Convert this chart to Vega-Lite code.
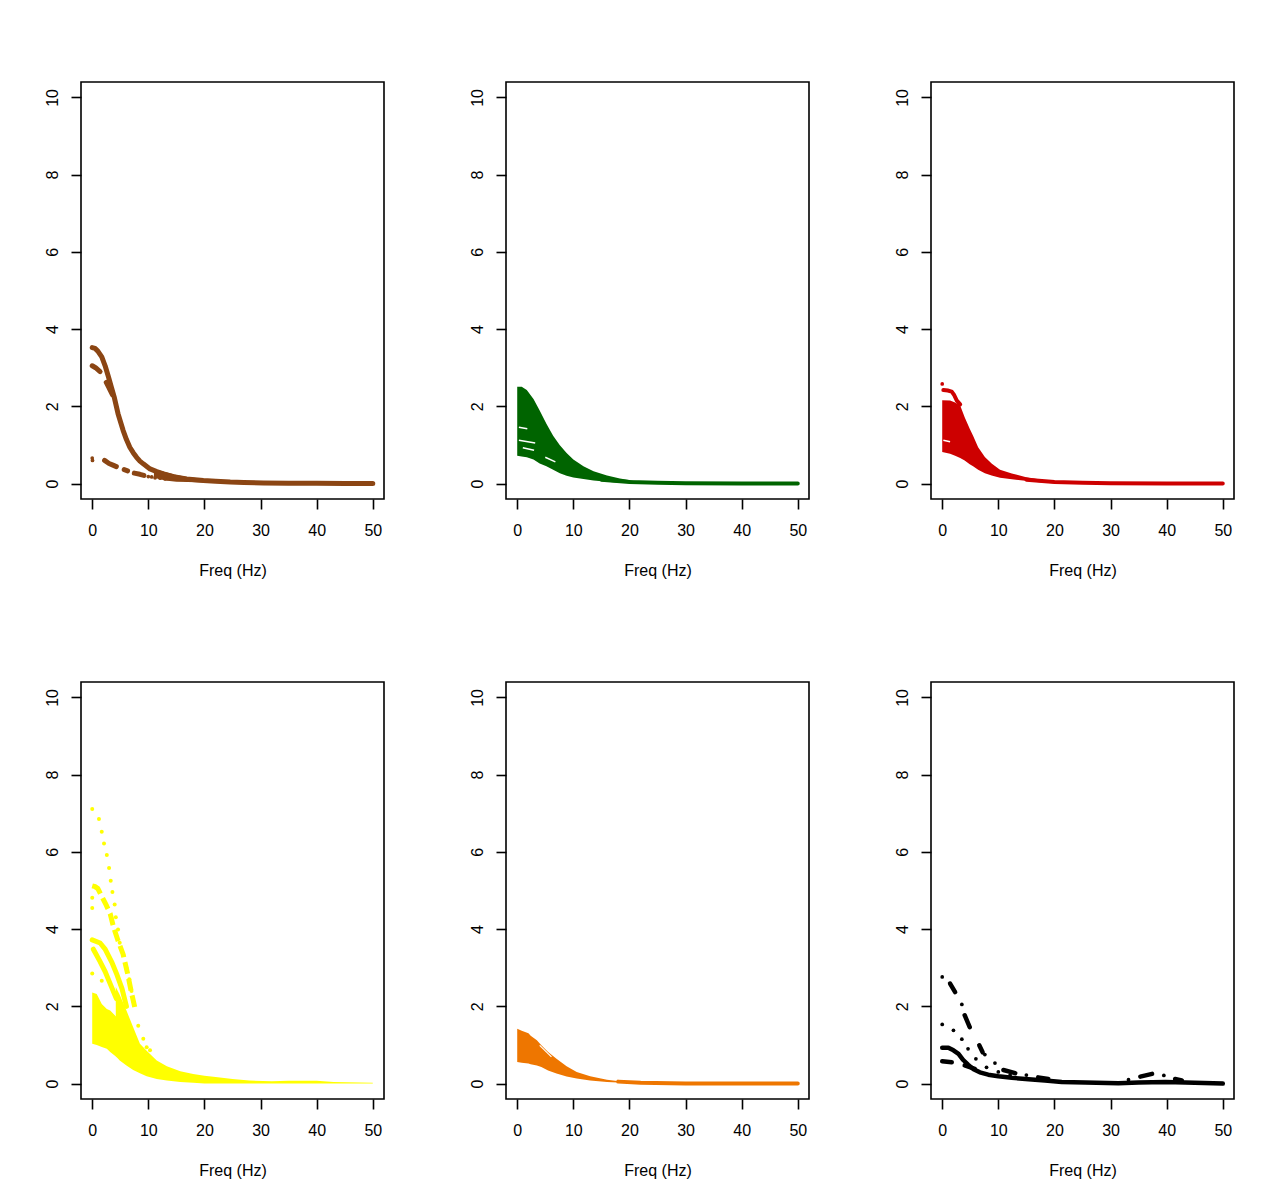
{
  "$schema": "https://vega.github.io/schema/vega-lite/v6.json",
  "padding": {"top": 81, "left": 43, "right": 0, "bottom": 0},
  "background": "white",
  "config": {
    "view": {"stroke": "black", "strokeWidth": 1.6},
    "axis": {
      "domain": false, "grid": false,
      "tickColor": "black", "tickWidth": 1.6, "tickSize": 10,
      "labelFont": "Liberation Sans", "labelFontSize": 16, "labelColor": "black", "labelPadding": 13,
      "titleFont": "Liberation Sans", "titleFontSize": 16, "titleFontWeight": "normal", "titleColor": "black", "titlePadding": 24
    },
    "axisY": {"labelAngle": 270, "labelAlign": "center", "labelBaseline": "alphabetic", "labelPadding": 14}
  },
  "datasets": {
    "l1": [
      {"seg": "a", "x": 0, "y": 3.52}, {"seg": "a", "x": 0.5, "y": 3.5}, {"seg": "a", "x": 1, "y": 3.43}, {"seg": "a", "x": 1.7, "y": 3.28},
      {"seg": "a", "x": 2.3, "y": 3.05}, {"seg": "a", "x": 2.9, "y": 2.76}, {"seg": "a", "x": 3.4, "y": 2.5}, {"seg": "a", "x": 3.9, "y": 2.25},
      {"seg": "a", "x": 4.6, "y": 1.81}, {"seg": "a", "x": 5.5, "y": 1.38}, {"seg": "a", "x": 6.1, "y": 1.14}, {"seg": "a", "x": 6.7, "y": 0.94},
      {"seg": "a", "x": 7.3, "y": 0.8}, {"seg": "a", "x": 7.9, "y": 0.68}, {"seg": "a", "x": 8.5, "y": 0.58}, {"seg": "a", "x": 9.1, "y": 0.51},
      {"seg": "a", "x": 10.3, "y": 0.38}, {"seg": "a", "x": 11.5, "y": 0.31}, {"seg": "a", "x": 12.7, "y": 0.25}, {"seg": "a", "x": 14.5, "y": 0.18},
      {"seg": "a", "x": 16.8, "y": 0.12}, {"seg": "a", "x": 19.8, "y": 0.08}, {"seg": "a", "x": 22, "y": 0.06}, {"seg": "a", "x": 24.6, "y": 0.04},
      {"seg": "a", "x": 27, "y": 0.03}, {"seg": "a", "x": 30.5, "y": 0.015}, {"seg": "a", "x": 35, "y": 0.01}, {"seg": "a", "x": 40, "y": 0.01},
      {"seg": "a", "x": 45, "y": 0}, {"seg": "a", "x": 50, "y": 0},
      {"seg": "b", "x": 0, "y": 3.05}, {"seg": "b", "x": 0.6, "y": 3.0}, {"seg": "b", "x": 1.4, "y": 2.9},
      {"seg": "c", "x": 2.5, "y": 2.62}, {"seg": "c", "x": 3.0, "y": 2.48}, {"seg": "c", "x": 3.6, "y": 2.3},
      {"seg": "d", "x": 2.2, "y": 0.6}, {"seg": "d", "x": 3.0, "y": 0.52}, {"seg": "d", "x": 3.8, "y": 0.47}, {"seg": "d", "x": 4.3, "y": 0.44},
      {"seg": "e", "x": 5.7, "y": 0.36}, {"seg": "e", "x": 6.3, "y": 0.33},
      {"seg": "f", "x": 7.5, "y": 0.27}, {"seg": "f", "x": 8.5, "y": 0.24}, {"seg": "f", "x": 9.2, "y": 0.21}
    ],
    "b1": [
      {"x": 11, "y": 0.38, "lo": 0.15}, {"x": 13, "y": 0.3, "lo": 0.08}, {"x": 15, "y": 0.22, "lo": 0.05},
      {"x": 17, "y": 0.17, "lo": 0.04}, {"x": 20, "y": 0.12, "lo": 0.03}, {"x": 22, "y": 0.1, "lo": 0.02},
      {"x": 25, "y": 0.08, "lo": 0.01}, {"x": 26, "y": 0.05, "lo": 0.01}
    ],
    "d1": [
      {"x": 0, "y": 0.66}, {"x": 0.05, "y": 0.6}, {"x": 10, "y": 0.18}, {"x": 10.6, "y": 0.17}, {"x": 11.2, "y": 0.15},
      {"x": 12.1, "y": 0.14}, {"x": 13, "y": 0.12}, {"x": 13.5, "y": 0.13}
    ],
    "b2": [
      {"x": 0, "y": 2.51, "lo": 0.72}, {"x": 0.8, "y": 2.51, "lo": 0.7}, {"x": 1.7, "y": 2.42, "lo": 0.68}, {"x": 2.9, "y": 2.19, "lo": 0.62},
      {"x": 4, "y": 1.89, "lo": 0.52}, {"x": 5.2, "y": 1.55, "lo": 0.45}, {"x": 6.4, "y": 1.24, "lo": 0.36}, {"x": 7.6, "y": 0.99, "lo": 0.27},
      {"x": 8.8, "y": 0.79, "lo": 0.2}, {"x": 10, "y": 0.62, "lo": 0.16}, {"x": 11.8, "y": 0.45, "lo": 0.12}, {"x": 13.6, "y": 0.32, "lo": 0.08},
      {"x": 16, "y": 0.21, "lo": 0.05}, {"x": 18.3, "y": 0.13, "lo": 0.02}, {"x": 20.7, "y": 0.07, "lo": 0.01}, {"x": 25.5, "y": 0.03, "lo": 0},
      {"x": 31.4, "y": 0.02, "lo": 0}, {"x": 50, "y": 0, "lo": 0}
    ],
    "l2": [
      {"seg": "a", "x": 15, "y": 0.1}, {"seg": "a", "x": 20, "y": 0.04}, {"seg": "a", "x": 25, "y": 0.02},
      {"seg": "a", "x": 30, "y": 0.01}, {"seg": "a", "x": 40, "y": 0}, {"seg": "a", "x": 50, "y": 0}
    ],
    "w2": [
      {"seg": "a", "x": 0.3, "y": 1.46}, {"seg": "a", "x": 1.8, "y": 1.42},
      {"seg": "b", "x": 0.3, "y": 1.12}, {"seg": "b", "x": 3.2, "y": 1.05},
      {"seg": "c", "x": 1.0, "y": 0.93}, {"seg": "c", "x": 3.0, "y": 0.86},
      {"seg": "d", "x": 5.0, "y": 0.68}, {"seg": "d", "x": 6.8, "y": 0.56}
    ],
    "b3": [
      {"x": 0, "y": 2.16, "lo": 0.82}, {"x": 1.4, "y": 2.15, "lo": 0.77}, {"x": 2.3, "y": 2.1, "lo": 0.72}, {"x": 3.2, "y": 2.02, "lo": 0.66},
      {"x": 4, "y": 1.72, "lo": 0.6}, {"x": 4.9, "y": 1.42, "lo": 0.5}, {"x": 5.5, "y": 1.24, "lo": 0.45}, {"x": 6.4, "y": 0.94, "lo": 0.36},
      {"x": 7.6, "y": 0.69, "lo": 0.27}, {"x": 8.8, "y": 0.52, "lo": 0.21}, {"x": 10.3, "y": 0.36, "lo": 0.15}, {"x": 12.4, "y": 0.26, "lo": 0.11},
      {"x": 14.8, "y": 0.17, "lo": 0.07}, {"x": 17.7, "y": 0.1, "lo": 0.03}, {"x": 20.7, "y": 0.05, "lo": 0}, {"x": 25.5, "y": 0.03, "lo": 0},
      {"x": 50, "y": 0, "lo": 0}
    ],
    "l3": [
      {"seg": "a", "x": 0.2, "y": 2.42}, {"seg": "a", "x": 1.0, "y": 2.41}, {"seg": "a", "x": 1.7, "y": 2.38}, {"seg": "a", "x": 2.1, "y": 2.3},
      {"seg": "a", "x": 2.6, "y": 2.15}, {"seg": "a", "x": 3.2, "y": 2.05},
      {"seg": "b", "x": 15, "y": 0.1}, {"seg": "b", "x": 20, "y": 0.04}, {"seg": "b", "x": 25, "y": 0.02},
      {"seg": "b", "x": 30, "y": 0.01}, {"seg": "b", "x": 40, "y": 0}, {"seg": "b", "x": 50, "y": 0}
    ],
    "d3": [{"x": 0, "y": 2.58}],
    "w3": [
      {"seg": "a", "x": 0.2, "y": 1.12}, {"seg": "a", "x": 1.4, "y": 1.08}
    ],
    "b4": [
      {"seg": "a", "x": 0, "y": 2.36, "lo": 1.03}, {"seg": "a", "x": 0.8, "y": 2.32, "lo": 1.0}, {"seg": "a", "x": 1.7, "y": 2.06, "lo": 0.95},
      {"seg": "a", "x": 2.6, "y": 1.93, "lo": 0.9}, {"seg": "a", "x": 3.2, "y": 1.89, "lo": 0.82}, {"seg": "a", "x": 4.5, "y": 1.7, "lo": 0.67},
      {"seg": "c", "x": 4.2, "y": 2.5, "lo": 0.71}, {"seg": "c", "x": 4.9, "y": 2.3, "lo": 0.6}, {"seg": "c", "x": 6.1, "y": 1.89, "lo": 0.47},
      {"seg": "c", "x": 7.3, "y": 1.46, "lo": 0.35}, {"seg": "c", "x": 8.5, "y": 1.03, "lo": 0.27}, {"seg": "c", "x": 9.7, "y": 0.85, "lo": 0.19},
      {"seg": "c", "x": 11.5, "y": 0.6, "lo": 0.12}, {"seg": "c", "x": 13.3, "y": 0.45, "lo": 0.08}, {"seg": "c", "x": 15.7, "y": 0.32, "lo": 0.04},
      {"seg": "c", "x": 18, "y": 0.25, "lo": 0.02}, {"seg": "c", "x": 20, "y": 0.2, "lo": 0}, {"seg": "c", "x": 22, "y": 0.17, "lo": 0},
      {"seg": "c", "x": 25, "y": 0.12, "lo": 0}, {"seg": "c", "x": 28, "y": 0.08, "lo": 0}, {"seg": "c", "x": 32, "y": 0.06, "lo": 0},
      {"seg": "c", "x": 35, "y": 0.07, "lo": 0}, {"seg": "c", "x": 40, "y": 0.07, "lo": 0}, {"seg": "c", "x": 43, "y": 0.04, "lo": 0},
      {"seg": "c", "x": 50, "y": 0.02, "lo": 0}
    ],
    "s4": [
      {"seg": "a", "x": 0, "y": 3.72}, {"seg": "a", "x": 1.4, "y": 3.64}, {"seg": "a", "x": 2.3, "y": 3.48}, {"seg": "a", "x": 3.5, "y": 3.14},
      {"seg": "a", "x": 4.4, "y": 2.82}, {"seg": "a", "x": 5.3, "y": 2.46}, {"seg": "a", "x": 6.1, "y": 2.0},
      {"seg": "b", "x": 0.2, "y": 3.48}, {"seg": "b", "x": 1.4, "y": 3.16}, {"seg": "b", "x": 2.3, "y": 2.9}, {"seg": "b", "x": 3.3, "y": 2.55},
      {"seg": "b", "x": 4.3, "y": 2.2}
    ],
    "l4": [
      {"seg": "a", "x": 0, "y": 5.12}, {"seg": "a", "x": 0.5, "y": 5.1}, {"seg": "a", "x": 1, "y": 5.05}, {"seg": "a", "x": 1.7, "y": 4.85},
      {"seg": "a", "x": 2.5, "y": 4.62}, {"seg": "a", "x": 3.2, "y": 4.4}, {"seg": "a", "x": 3.8, "y": 4.05}, {"seg": "a", "x": 4.6, "y": 3.7},
      {"seg": "a", "x": 5.5, "y": 3.35}, {"seg": "a", "x": 6.3, "y": 2.85}, {"seg": "a", "x": 7, "y": 2.35}, {"seg": "a", "x": 7.7, "y": 1.9}
    ],
    "d4": [
      {"x": 0, "y": 7.11}, {"x": 1.2, "y": 6.85}, {"x": 1.7, "y": 6.52}, {"x": 2.1, "y": 6.22}, {"x": 2.6, "y": 5.92}, {"x": 3.0, "y": 5.58},
      {"x": 3.3, "y": 5.25}, {"x": 3.6, "y": 4.96}, {"x": 4.0, "y": 4.64}, {"x": 4.2, "y": 4.31}, {"x": 4.6, "y": 3.99}, {"x": 4.9, "y": 3.65},
      {"x": 5.5, "y": 3.35}, {"x": 6.1, "y": 3.0}, {"x": 6.6, "y": 2.7}, {"x": 7.0, "y": 2.4}, {"x": 7.4, "y": 2.1}, {"x": 8.2, "y": 1.5},
      {"x": 9.1, "y": 1.16}, {"x": 9.7, "y": 0.94}, {"x": 10.3, "y": 0.86},
      {"x": 0, "y": 4.81}, {"x": 0, "y": 4.55}, {"x": 0, "y": 2.85}, {"x": 1.7, "y": 2.66}
    ],
    "b5": [
      {"x": 0, "y": 1.42, "lo": 0.56}, {"x": 0.8, "y": 1.37, "lo": 0.54}, {"x": 2, "y": 1.3, "lo": 0.52}, {"x": 2.4, "y": 1.24, "lo": 0.5},
      {"x": 3.5, "y": 1.12, "lo": 0.47}, {"x": 4.3, "y": 0.99, "lo": 0.43}, {"x": 5.5, "y": 0.82, "lo": 0.34}, {"x": 7, "y": 0.64, "lo": 0.26},
      {"x": 8.8, "y": 0.45, "lo": 0.18}, {"x": 10.6, "y": 0.3, "lo": 0.13}, {"x": 13, "y": 0.19, "lo": 0.08}, {"x": 16, "y": 0.1, "lo": 0.04},
      {"x": 18.9, "y": 0.05, "lo": 0.02}, {"x": 21.9, "y": 0.03, "lo": 0}, {"x": 50, "y": 0, "lo": 0}
    ],
    "l5": [
      {"seg": "a", "x": 18, "y": 0.05}, {"seg": "a", "x": 22, "y": 0.02}, {"seg": "a", "x": 30, "y": 0},
      {"seg": "a", "x": 40, "y": 0}, {"seg": "a", "x": 50, "y": 0}
    ],
    "w5": [
      {"seg": "a", "x": 4.0, "y": 0.99}, {"seg": "a", "x": 6.1, "y": 0.69}
    ],
    "l6": [
      {"seg": "a", "x": 0, "y": 0.93}, {"seg": "a", "x": 1.1, "y": 0.93}, {"seg": "a", "x": 2, "y": 0.86}, {"seg": "a", "x": 2.9, "y": 0.77},
      {"seg": "a", "x": 3.75, "y": 0.61}, {"seg": "a", "x": 4.6, "y": 0.49}, {"seg": "a", "x": 5.5, "y": 0.38}, {"seg": "a", "x": 6.7, "y": 0.29},
      {"seg": "a", "x": 8.2, "y": 0.23}, {"seg": "a", "x": 10, "y": 0.19}, {"seg": "a", "x": 12.4, "y": 0.15}, {"seg": "a", "x": 15.4, "y": 0.11},
      {"seg": "a", "x": 18.3, "y": 0.08}, {"seg": "a", "x": 21.3, "y": 0.04}, {"seg": "a", "x": 25.5, "y": 0.03}, {"seg": "a", "x": 31.4, "y": 0.01},
      {"seg": "a", "x": 35, "y": 0.03}, {"seg": "a", "x": 39.8, "y": 0.04}, {"seg": "a", "x": 43.3, "y": 0.03}, {"seg": "a", "x": 50, "y": 0},
      {"seg": "b", "x": 0, "y": 0.58}, {"seg": "b", "x": 1.7, "y": 0.55},
      {"seg": "c", "x": 4, "y": 0.47}, {"seg": "c", "x": 5.8, "y": 0.38},
      {"seg": "d", "x": 1.4, "y": 2.59}, {"seg": "d", "x": 2.3, "y": 2.37},
      {"seg": "e", "x": 4, "y": 1.77}, {"seg": "e", "x": 4.9, "y": 1.46},
      {"seg": "f", "x": 6.6, "y": 0.99}, {"seg": "f", "x": 7.2, "y": 0.81},
      {"seg": "g", "x": 10.9, "y": 0.35}, {"seg": "g", "x": 13, "y": 0.27},
      {"seg": "h", "x": 17.1, "y": 0.16}, {"seg": "h", "x": 18.9, "y": 0.12},
      {"seg": "i", "x": 35.3, "y": 0.18}, {"seg": "i", "x": 37.4, "y": 0.25},
      {"seg": "j", "x": 41.5, "y": 0.12}, {"seg": "j", "x": 42.7, "y": 0.08}
    ],
    "d6": [
      {"x": 0, "y": 2.76}, {"x": 3.5, "y": 2.05}, {"x": 7.6, "y": 0.75}, {"x": 9.4, "y": 0.53}, {"x": 15, "y": 0.22},
      {"x": 0, "y": 1.53}, {"x": 2, "y": 1.38}, {"x": 3.5, "y": 1.15}, {"x": 4.6, "y": 0.9}, {"x": 6, "y": 0.64},
      {"x": 7.9, "y": 0.42}, {"x": 10, "y": 0.3}, {"x": 12.1, "y": 0.22}, {"x": 33.2, "y": 0.1}, {"x": 39.5, "y": 0.21}
    ]
  },
  "columns": 3,
  "spacing": {"row": 183, "column": 122},
  "bounds": "flush",
  "concat": [
    {
      "width": 303, "height": 417,
      "encoding": {
        "x": {"field": "x", "type": "quantitative", "scale": {"domain": [-2, 52], "nice": false, "zero": false}, "axis": {"values": [0, 10, 20, 30, 40, 50], "title": "Freq (Hz)"}},
        "y": {"field": "y", "type": "quantitative", "scale": {"domain": [-0.4, 10.4], "nice": false, "zero": false}, "axis": {"values": [0, 2, 4, 6, 8, 10], "title": null}}
      },
      "layer": [
        {"data": {"name": "b1"}, "mark": {"type": "area", "color": "#8B4513"}, "encoding": {"y2": {"field": "lo"}}},
        {"data": {"name": "l1"}, "mark": {"type": "line", "color": "#8B4513", "strokeWidth": 5, "strokeCap": "round", "strokeJoin": "round"}, "encoding": {"detail": {"field": "seg"}}},
        {"data": {"name": "d1"}, "mark": {"type": "circle", "color": "#8B4513", "size": 14, "opacity": 1}}
      ]
    },
    {
      "width": 303, "height": 417,
      "encoding": {
        "x": {"field": "x", "type": "quantitative", "scale": {"domain": [-2, 52], "nice": false, "zero": false}, "axis": {"values": [0, 10, 20, 30, 40, 50], "title": "Freq (Hz)"}},
        "y": {"field": "y", "type": "quantitative", "scale": {"domain": [-0.4, 10.4], "nice": false, "zero": false}, "axis": {"values": [0, 2, 4, 6, 8, 10], "title": null}}
      },
      "layer": [
        {"data": {"name": "b2"}, "mark": {"type": "area", "color": "#006400"}, "encoding": {"y2": {"field": "lo"}}},
        {"data": {"name": "l2"}, "mark": {"type": "line", "color": "#006400", "strokeWidth": 4, "strokeCap": "round"}, "encoding": {"detail": {"field": "seg"}}},
        {"data": {"name": "w2"}, "mark": {"type": "line", "color": "white", "strokeWidth": 1.5}, "encoding": {"detail": {"field": "seg"}}}
      ]
    },
    {
      "width": 303, "height": 417,
      "encoding": {
        "x": {"field": "x", "type": "quantitative", "scale": {"domain": [-2, 52], "nice": false, "zero": false}, "axis": {"values": [0, 10, 20, 30, 40, 50], "title": "Freq (Hz)"}},
        "y": {"field": "y", "type": "quantitative", "scale": {"domain": [-0.4, 10.4], "nice": false, "zero": false}, "axis": {"values": [0, 2, 4, 6, 8, 10], "title": null}}
      },
      "layer": [
        {"data": {"name": "b3"}, "mark": {"type": "area", "color": "#CD0000"}, "encoding": {"y2": {"field": "lo"}}},
        {"data": {"name": "l3"}, "mark": {"type": "line", "color": "#CD0000", "strokeWidth": 4, "strokeCap": "round"}, "encoding": {"detail": {"field": "seg"}}},
        {"data": {"name": "w3"}, "mark": {"type": "line", "color": "white", "strokeWidth": 1.5}, "encoding": {"detail": {"field": "seg"}}},
        {"data": {"name": "d3"}, "mark": {"type": "circle", "color": "#CD0000", "size": 14, "opacity": 1}}
      ]
    },
    {
      "width": 303, "height": 417,
      "encoding": {
        "x": {"field": "x", "type": "quantitative", "scale": {"domain": [-2, 52], "nice": false, "zero": false}, "axis": {"values": [0, 10, 20, 30, 40, 50], "title": "Freq (Hz)"}},
        "y": {"field": "y", "type": "quantitative", "scale": {"domain": [-0.4, 10.4], "nice": false, "zero": false}, "axis": {"values": [0, 2, 4, 6, 8, 10], "title": null}}
      },
      "layer": [
        {"data": {"name": "b4"}, "mark": {"type": "area", "color": "#FFFF00"}, "encoding": {"y2": {"field": "lo"}, "detail": {"field": "seg"}}},
        {"data": {"name": "s4"}, "mark": {"type": "line", "color": "#FFFF00", "strokeWidth": 5, "strokeCap": "round"}, "encoding": {"detail": {"field": "seg"}}},
        {"data": {"name": "l4"}, "mark": {"type": "line", "color": "#FFFF00", "strokeWidth": 5, "strokeDash": [12, 5]}, "encoding": {"detail": {"field": "seg"}}},
        {"data": {"name": "d4"}, "mark": {"type": "circle", "color": "#FFFF00", "size": 16, "opacity": 1}}
      ]
    },
    {
      "width": 303, "height": 417,
      "encoding": {
        "x": {"field": "x", "type": "quantitative", "scale": {"domain": [-2, 52], "nice": false, "zero": false}, "axis": {"values": [0, 10, 20, 30, 40, 50], "title": "Freq (Hz)"}},
        "y": {"field": "y", "type": "quantitative", "scale": {"domain": [-0.4, 10.4], "nice": false, "zero": false}, "axis": {"values": [0, 2, 4, 6, 8, 10], "title": null}}
      },
      "layer": [
        {"data": {"name": "b5"}, "mark": {"type": "area", "color": "#EE7600"}, "encoding": {"y2": {"field": "lo"}}},
        {"data": {"name": "l5"}, "mark": {"type": "line", "color": "#EE7600", "strokeWidth": 4, "strokeCap": "round"}, "encoding": {"detail": {"field": "seg"}}},
        {"data": {"name": "w5"}, "mark": {"type": "line", "color": "white", "strokeWidth": 1.2}, "encoding": {"detail": {"field": "seg"}}}
      ]
    },
    {
      "width": 303, "height": 417,
      "encoding": {
        "x": {"field": "x", "type": "quantitative", "scale": {"domain": [-2, 52], "nice": false, "zero": false}, "axis": {"values": [0, 10, 20, 30, 40, 50], "title": "Freq (Hz)"}},
        "y": {"field": "y", "type": "quantitative", "scale": {"domain": [-0.4, 10.4], "nice": false, "zero": false}, "axis": {"values": [0, 2, 4, 6, 8, 10], "title": null}}
      },
      "layer": [
        {"data": {"name": "l6"}, "mark": {"type": "line", "color": "black", "strokeWidth": 4.5, "strokeCap": "round", "strokeJoin": "round"}, "encoding": {"detail": {"field": "seg"}}},
        {"data": {"name": "d6"}, "mark": {"type": "circle", "color": "black", "size": 14, "opacity": 1}}
      ]
    }
  ]
}
